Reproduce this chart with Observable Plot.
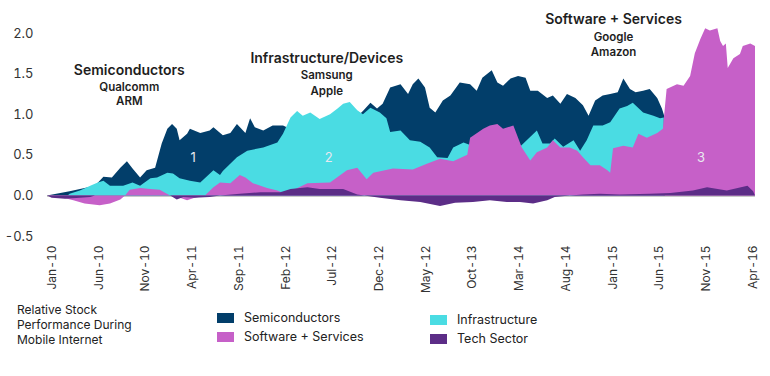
<!DOCTYPE html>
<html>
<head>
<meta charset="utf-8">
<script src="https://cdn.jsdelivr.net/npm/d3@7"></script>
<script src="https://cdn.jsdelivr.net/npm/@observablehq/plot@0.6"></script>
<style>
  html, body { margin: 0; padding: 0; background: #ffffff; }
  body { width: 770px; height: 376px; position: relative; overflow: hidden; font-family: Inter, "Noto Sans", sans-serif; color: #222; }
  #chart { position: absolute; left: 0; top: 0; }
  .caption { position: absolute; left: 17px; top: 302px; font-size: 12px; line-height: 15px; color: #222; }
  .leg { position: absolute; font-size: 12.5px; color: #222; display: flex; align-items: center; }
  .sw { width: 17px; height: 10px; margin-right: 10px; display: inline-block; }
</style>
</head>
<body>
<div id="chart"></div>
<div class="caption">Relative Stock<br>Performance During<br>Mobile Internet</div>
<div class="leg" style="left:217px; top:310px;"><span class="sw" style="background:#023e6a"></span>Semiconductors</div>
<div class="leg" style="left:217px; top:329px;"><span class="sw" style="background:#c660c8"></span>Software + Services</div>
<div class="leg" style="left:430px; top:312px;"><span class="sw" style="background:#4adce3"></span>Infrastructure</div>
<div class="leg" style="left:430px; top:331px;"><span class="sw" style="background:#5c2d87"></span>Tech Sector</div>
<script>
// x in months since Jan-10, value = relative performance
const tickLabels = ["Jan-10","Jun-10","Nov-10","Apr-11","Sep-11","Feb-12","Jul-12","Dec-12","May-12","Oct-13","Mar-14","Aug-14","Jan-15","Jun-15","Nov-15","Apr-16"];
const tickMonths = [0.5,5.5,10.4,15.4,20.4,25.4,30.3,35.3,40.3,45.2,50.2,55.2,60.2,65.1,70.1,75.1];
const yTicks = [-0.5, 0, 0.5, 1, 1.5, 2];

const semiconductors = [
  [0,0],[2.4,0.05],[5.1,0.12],[6.0,0.23],[6.9,0.22],[7.8,0.34],[8.5,0.42],[9.1,0.33],[9.9,0.22],
  [10.6,0.31],[11.5,0.34],[12.2,0.64],[12.8,0.82],[13.3,0.88],[13.8,0.82],[14.1,0.68],[14.9,0.76],
  [15.2,0.82],[16.3,0.77],[17.3,0.8],[17.7,0.84],[18.7,0.74],[19.5,0.77],[20.2,0.88],[21.1,0.77],
  [21.6,0.95],[22.1,0.84],[23.0,0.8],[24.0,0.86],[25.1,0.86],[25.5,0.84],[26.9,0.85],[30.1,0.9],
  [32.8,0.95],[33.6,1.04],[34.4,1.14],[35.1,1.07],[35.7,1.13],[36.5,1.33],[37.6,1.37],[38.4,1.25],
  [38.9,1.37],[39.5,1.44],[40.2,1.33],[40.7,1.08],[41.3,1.02],[42.1,1.17],[42.9,1.23],[43.9,1.39],
  [45.0,1.37],[45.7,1.29],[46.3,1.45],[47.3,1.54],[47.9,1.39],[48.5,1.35],[49.3,1.44],[50.1,1.47],
  [50.9,1.45],[51.4,1.29],[52.2,1.29],[53.2,1.2],[53.8,1.23],[54.6,1.13],[55.3,1.25],[56.2,1.2],
  [57.0,1.11],[57.6,0.98],[58.3,1.17],[59.1,1.23],[59.9,1.25],[60.7,1.27],[61.3,1.44],[62.0,1.31],
  [62.6,1.27],[63.4,1.29],[64.1,1.31],[64.9,1.2],[65.4,1.07],[65.7,0.96]
];

const infrastructure = [
  [0,0],[2.2,0],[2.4,0.02],[3.5,0.06],[4.6,0.12],[5.4,0.16],[6.0,0.18],[6.7,0.12],[8.1,0.12],
  [9.1,0.16],[9.9,0.12],[11.0,0.21],[11.7,0.22],[12.8,0.28],[13.4,0.27],[14.1,0.21],[15.2,0.18],
  [16.3,0.16],[17.7,0.31],[18.4,0.25],[18.7,0.3],[20.2,0.47],[21.3,0.55],[23.0,0.59],[24.5,0.65],
  [25.1,0.76],[25.9,0.96],[26.6,1.04],[27.2,0.98],[28.0,1.02],[29.0,0.94],[30.1,1.0],[30.9,1.07],
  [31.5,1.13],[32.2,1.15],[33.0,1.05],[33.6,1.0],[34.4,1.08],[35.4,1.02],[36.1,0.95],[36.5,0.78],
  [37.6,0.8],[38.6,0.68],[39.7,0.66],[40.7,0.59],[41.5,0.47],[42.6,0.46],[43.2,0.59],[44.3,0.65],
  [45.0,0.62],[46.1,0.6],[50.3,0.6],[52.1,0.8],[52.7,0.64],[53.5,0.64],[54.0,0.7],[54.9,0.6],
  [56.0,0.68],[56.7,0.55],[57.4,0.68],[58.1,0.86],[59.1,0.86],[59.9,0.9],[60.9,1.07],[61.7,1.1],
  [62.3,1.14],[63.4,1.02],[64.5,0.98],[65.2,0.95],[65.6,0.96]
];

const software = [
  [0,0],[1.4,-0.02],[2.8,-0.06],[4.0,-0.1],[5.6,-0.12],[6.7,-0.1],[7.8,-0.05],[8.3,0],[8.8,0.07],
  [9.9,0.09],[11.0,0.08],[12.0,0.07],[12.6,0.03],[13.1,0],[13.9,-0.02],[14.9,-0.06],[15.7,-0.03],
  [16.8,0],[17.7,0.1],[18.4,0.16],[19.5,0.15],[20.5,0.25],[21.1,0.22],[21.9,0.15],[23.4,0.09],
  [24.5,0.06],[25.1,0.03],[25.9,0.05],[27.7,0.15],[30.1,0.16],[31.9,0.31],[33.0,0.34],[34.0,0.2],
  [34.7,0.28],[36.8,0.33],[38.9,0.32],[40.4,0.39],[41.8,0.45],[43.2,0.42],[44.7,0.5],[45.0,0.71],
  [46.4,0.82],[47.1,0.86],[47.9,0.88],[48.5,0.82],[49.6,0.86],[50.1,0.71],[50.5,0.59],[51.4,0.43],
  [52.1,0.53],[53.2,0.59],[53.8,0.68],[54.6,0.59],[55.6,0.59],[56.4,0.55],[57.0,0.47],[57.8,0.37],
  [58.8,0.37],[59.6,0.31],[59.9,0.28],[60.2,0.58],[61.3,0.61],[62.3,0.59],[62.9,0.76],[63.8,0.71],
  [64.9,0.77],[65.5,0.82],[65.9,1.31],[67.0,1.37],[67.7,1.35],[68.4,1.47],[68.9,1.75],[69.5,1.93],
  [70.0,2.06],[70.5,2.03],[71.3,2.06],[71.6,1.9],[71.9,1.84],[72.2,1.87],[72.4,1.57],[73.0,1.69],
  [73.7,1.74],[74.0,1.84],[74.8,1.87],[75.3,1.84]
];

const techSector = [
  [0,0],[0.5,-0.03],[1.9,-0.04],[3.5,-0.03],[4.6,-0.02],[5.1,0],[13.1,0],[13.8,-0.05],[14.5,-0.02],
  [15.7,-0.03],[17.3,-0.02],[18.4,0],[20.5,0.02],[22.7,0.04],[24.8,0.04],[25.9,0.08],[27.7,0.1],
  [29.0,0.08],[31.5,0.08],[33.0,0.01],[35.4,-0.03],[37.6,-0.06],[39.7,-0.08],[41.8,-0.13],[43.4,-0.09],
  [45.3,-0.08],[47.1,-0.06],[48.9,-0.08],[50.3,-0.08],[51.7,-0.1],[53.2,-0.06],[54.0,-0.02],[55.6,0],
  [57.0,0.01],[58.8,0.02],[60.9,0.01],[64.1,0.02],[66.3,0.03],[68.7,0.06],[70.2,0.1],[72.3,0.06],
  [74.5,0.12],[75.1,0.05],[75.3,0]
];

const annotations = [
  {text: "Semiconductors", m: 8.7, v: 1.54, size: 14, weight: 600},
  {text: "Qualcomm", m: 8.7, v: 1.335, size: 11.5, weight: 600},
  {text: "ARM", m: 8.7, v: 1.16, size: 11.5, weight: 600},
  {text: "Infrastructure/Devices", m: 29.7, v: 1.69, size: 14, weight: 600},
  {text: "Samsung", m: 29.7, v: 1.48, size: 11.5, weight: 600},
  {text: "Apple", m: 29.7, v: 1.29, size: 11.5, weight: 600},
  {text: "Software + Services", m: 60.2, v: 2.17, size: 14, weight: 600},
  {text: "Google", m: 60.2, v: 1.955, size: 11.5, weight: 600},
  {text: "Amazon", m: 60.2, v: 1.77, size: 11.5, weight: 600}
];
const regionLabels = [
  {text: "1", m: 15.5, v: 0.47},
  {text: "2", m: 29.9, v: 0.47},
  {text: "3", m: 69.5, v: 0.47}
];

const colors = {semi: "#023e6a", infra: "#4adce3", soft: "#c660c8", tech: "#5c2d87"};
const area = (data, fill) => Plot.areaY(data, {x: d => d[0], y1: 0, y2: d => d[1], fill, curve: "linear"});

const chart = Plot.plot({
  width: 770,
  height: 295,
  marginLeft: 47,
  marginRight: 15,
  marginTop: 33,
  marginBottom: 59,
  style: {fontFamily: "Inter, 'Noto Sans', sans-serif", background: "transparent", color: "#333"},
  x: {domain: [0, 75.3]},
  y: {domain: [-0.5, 2]},
  marks: [
    Plot.ruleY([0], {stroke: "#c8c8c8", strokeWidth: 2}),
    area(semiconductors, colors.semi),
    area(infrastructure, colors.infra),
    area(software, colors.soft),
    area(techSector, colors.tech),
    Plot.axisY(yTicks, {tickSize: 0, tickPadding: 14, fontSize: 13, tickFormat: d => d.toFixed(1), label: null}),
    Plot.axisX(tickMonths, {tickSize: 0, tickPadding: 9, tickRotate: -90, fontSize: 12,
      tickFormat: d => tickLabels[tickMonths.indexOf(d)], label: null}),
    ...annotations.map(a => Plot.text([a], {x: "m", y: "v", text: "text", fontSize: a.size, fontWeight: a.weight, fill: "#1e1e1e"})),
    Plot.text(regionLabels, {x: "m", y: "v", text: "text", fontSize: 13, fill: "#e8e8f0"})
  ]
});
document.getElementById("chart").appendChild(chart);
</script>
</body>
</html>
